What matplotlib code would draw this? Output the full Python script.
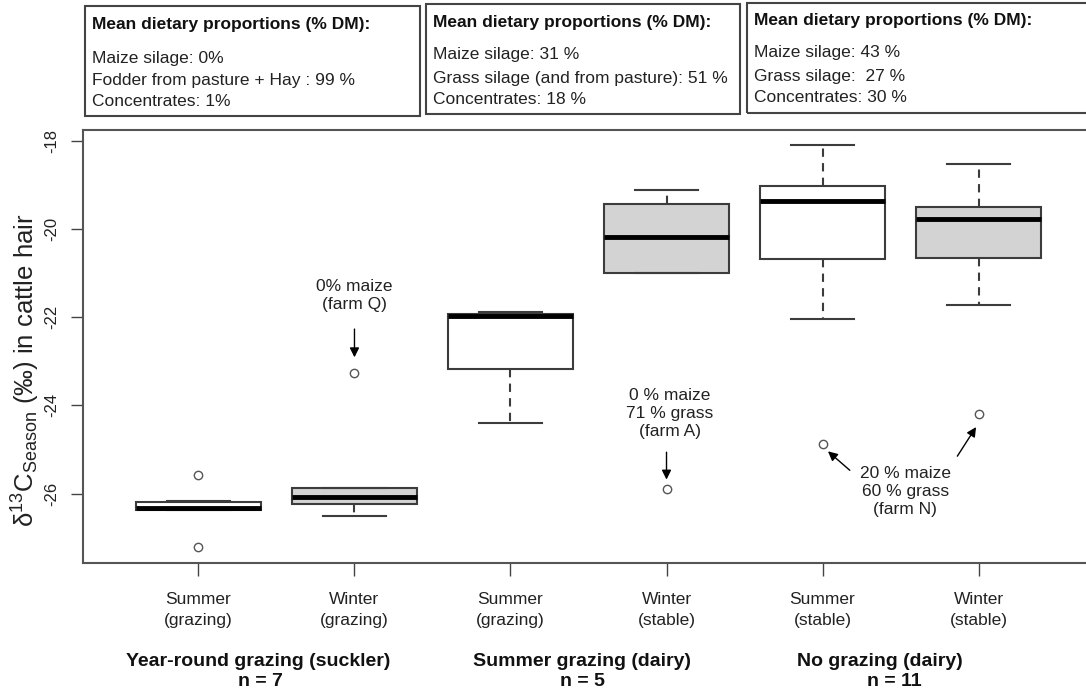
import matplotlib
matplotlib.use("Agg")
import matplotlib.pyplot as plt
from matplotlib.patches import Rectangle
from matplotlib.transforms import blended_transform_factory

plt.rcParams["font.family"] = ["Liberation Sans", "DejaVu Sans"]
plt.rcParams["mathtext.default"] = "regular"

W, H = 1086, 693

# tick labels along x, one per box
categories = ["Summer\n(grazing)", "Winter\n(grazing)", "Summer\n(grazing)",
              "Winter\n(stable)", "Summer\n(stable)", "Winter\n(stable)"]
winter = [False, True, False, True, False, True]

# five-number summaries of delta13C per season/system
whis_lo = [-26.36, -26.50, -24.40, -20.99, -22.05, -21.73]
q1 = [-26.36, -26.24, -23.18, -20.99, -20.69, -20.65]
median = [-26.33, -26.08, -21.97, -20.18, -19.36, -19.78]
q3 = [-26.19, -25.86, -21.93, -19.44, -19.04, -19.50]
whis_hi = [-26.17, -25.86, -21.88, -19.12, -18.10, -18.54]
outliers = [[-25.58, -27.21], [-23.26], [], [-25.90], [-24.88], [-24.20]]

groups = ["Year-round grazing (suckler)", "Summer grazing (dairy)", "No grazing (dairy)"]
group_n = ["n = 7", "n = 5", "n = 11"]

diet_boxes = [
    ["Maize silage: 0%", "Fodder from pasture + Hay : 99 %", "Concentrates: 1%"],
    ["Maize silage: 31 %", "Grass silage (and from pasture): 51 %", "Concentrates: 18 %"],
    ["Maize silage: 43 %", "Grass silage:  27 %", "Concentrates: 30 %"],
]

fig = plt.figure(figsize=(W / 100, H / 100), dpi=100)


def fx(px):
    return px / W


def fy(py):
    return 1 - py / H


ax = fig.add_axes([fx(83), fy(563), fx(1094) - fx(83), fy(130) - fy(563)])

stats = []
for i in range(len(categories)):
    stats.append(dict(whislo=whis_lo[i], q1=q1[i], med=median[i], q3=q3[i],
                      whishi=whis_hi[i], fliers=outliers[i]))

edge = "#3c3c3c"
bp = ax.bxp(stats, positions=range(1, 7), widths=0.8, capwidths=0.4,
            patch_artist=True, showfliers=True,
            boxprops=dict(edgecolor=edge, linewidth=1.5),
            medianprops=dict(color="black", linewidth=3.5, solid_capstyle="butt"),
            whiskerprops=dict(color=edge, linewidth=1.5, linestyle=(0, (4, 3))),
            capprops=dict(color=edge, linewidth=1.5),
            flierprops=dict(marker="o", markerfacecolor="none", markeredgecolor="#555555",
                            markersize=6, markeredgewidth=1))
for patch, w in zip(bp["boxes"], winter):
    patch.set_facecolor("#d3d3d3" if w else "white")

ax.set_xlim(0.26, 6.74)
ax.set_ylim(-27.57, -17.76)
ax.set_yticks([-26, -24, -22, -20, -18])
ax.set_yticklabels(["-26", "-24", "-22", "-20", "-18"], rotation=90, va="center")
ax.set_xticks(range(1, 7))
ax.set_xticklabels(categories, linespacing=1.45)
ax.tick_params(axis="both", length=9, width=1, color="#444444", labelsize=12.5,
               labelcolor="#222222")
ax.tick_params(axis="x", pad=12)
ax.tick_params(axis="y", pad=8, labelsize=12)
for s in ax.spines.values():
    s.set_color("#555555")
    s.set_linewidth(1.5)

ax.set_ylabel("δ$^{13}$C$_{Season}$ (‰) in cattle hair", fontsize=18.5, color="#222222",
              va="center")
ax.yaxis.set_label_coords(-0.056, 0.445)

# annotations pointing to the individual farms
arrow = dict(arrowstyle="-|>", color="black", lw=1, mutation_scale=14, shrinkA=0, shrinkB=0)
ax.text(2.0, -21.52, "0% maize\n(farm Q)", ha="center", va="center", fontsize=12.5,
        linespacing=1.25, color="#222222")
ax.annotate("", xy=(2.0, -22.91), xytext=(2.0, -22.27), arrowprops=arrow)

ax.text(4.02, -24.18, "0 % maize\n71 % grass\n(farm A)", ha="center", va="center",
        fontsize=12.5, linespacing=1.25, color="#222222")
ax.annotate("", xy=(4.0, -25.68), xytext=(4.0, -25.06), arrowprops=arrow)

ax.text(5.53, -25.96, "20 % maize\n60 % grass\n(farm N)", ha="center", va="center",
        fontsize=12.5, linespacing=1.25, color="#222222")
ax.annotate("", xy=(5.035, -25.04), xytext=(5.175, -25.47), arrowprops=arrow)
ax.annotate("", xy=(5.984, -24.49), xytext=(5.864, -25.15), arrowprops=arrow)

# system labels under the axis
under = blended_transform_factory(ax.transData, fig.transFigure)
for xg, name in zip([1.385, 3.46, 5.37], groups):
    ax.text(xg, fy(661), name, transform=under, ha="center", va="center",
            fontsize=14, fontweight="bold", color="#111111")
for xg, n in zip([1.40, 3.46, 5.46], group_n):
    ax.text(xg, fy(682), n, transform=under, ha="center", va="center",
            fontsize=14, fontweight="bold", color="#111111")

# diet composition boxes along the top
box_px = [(85, 6, 420, 116), (426, 4, 740, 114), (747, 3, 1100, 113)]
head_y = [25, 22, 20]
line_y = [[58, 80, 101], [55, 78, 99], [53, 76, 98]]
for (x0, y0, x1, y1), hy, ly, lines in zip(box_px, head_y, line_y, diet_boxes):
    fig.patches.append(Rectangle((fx(x0), fy(y1)), fx(x1) - fx(x0), fy(y0) - fy(y1),
                                 transform=fig.transFigure, fill=False,
                                 edgecolor="#444444", linewidth=1.5))
    fig.text(fx(x0 + 7), fy(hy), "Mean dietary proportions (% DM):", ha="left", va="center",
             fontsize=12.5, fontweight="bold", color="#111111")
    for yy, t in zip(ly, lines):
        fig.text(fx(x0 + 7), fy(yy), t, ha="left", va="center", fontsize=12.5, color="#222222")

fig.savefig("out.png", dpi=100)
